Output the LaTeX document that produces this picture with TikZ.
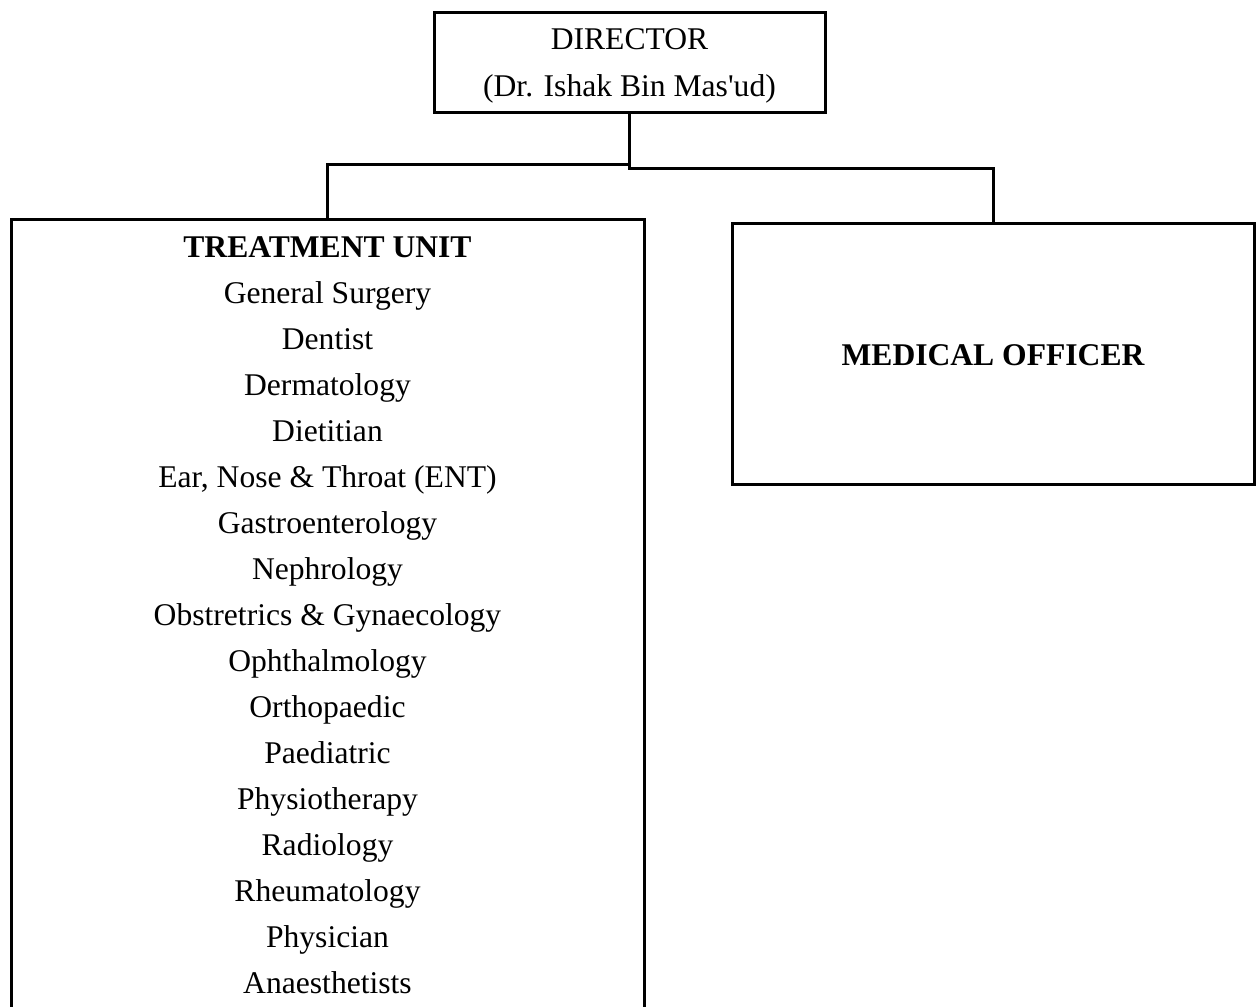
\documentclass[tikz,border=0pt]{standalone}
\usepackage{fontspec}
\setmainfont{Liberation Serif}
\begin{document}
\begin{tikzpicture}[
  x=0.5pt, y=-0.5pt,
  box/.style={draw, line width=1.5pt, outer sep=0pt, inner sep=0pt},
  txt/.style={anchor=base, inner sep=0pt, font=\fontsize{15.8}{23}\selectfont},
  head/.style={anchor=base, inner sep=0pt, font=\fontsize{15.8}{23}\selectfont\bfseries},
  link/.style={line width=1.5pt}
]
\useasboundingbox (0,0) rectangle (1257,1006);
\clip (0,0) rectangle (1257,1006);

% director
\node[box, minimum width=195.5pt, minimum height=50pt] (director) at (629.5,63) {};
\node[txt] (dirtitle) at (629.5,50) {DIRECTOR};
\node[txt] (dirname) at (629.5,97) {(Dr. Ishak Bin Mas\textquotesingle ud)};

% treatment unit (runs on past the lower edge of the page)
\node[box, minimum width=316.5pt, minimum height=410.5pt] (treat) at (327.5,629.5) {};
\node[head] (treattitle) at (327.5,257) {TREATMENT UNIT};
\foreach \unitname [count=\i] in {General Surgery, Dentist, Dermatology, Dietitian,
    {Ear, Nose \& Throat (ENT)}, Gastroenterology, Nephrology,
    {Obstretrics \& Gynaecology}, Ophthalmology, Orthopaedic, Paediatric,
    Physiotherapy, Radiology, Rheumatology, Physician, Anaesthetists}
  \node[txt] (unit\i) at (327.5, 257+46*\i) {\unitname};

% medical officer
\node[box, minimum width=261pt, minimum height=130.5pt] (officer) at (993,353.5) {};
\node[head] (officertitle) at (993,365) {MEDICAL OFFICER};

% connectors
\coordinate (busl) at (327.5,164);
\coordinate (busr) at (993,168);
\draw[link] (director.south) |- (busl) -- (treat.north);
\draw[link] (director.south) |- (busr) -- (officer.north);
\end{tikzpicture}
\end{document}
